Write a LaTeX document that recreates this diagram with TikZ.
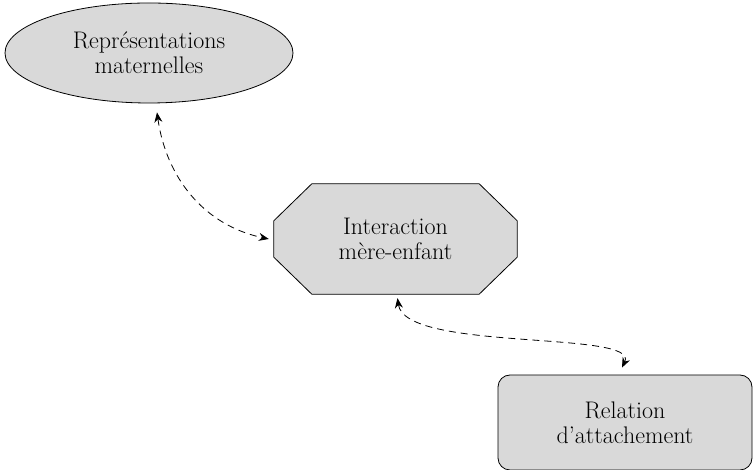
\documentclass[tikz,border=0pt]{standalone}
\usetikzlibrary{shapes.geometric,arrows.meta,backgrounds}
\tikzset{
  box/.style={draw, line width=0.8pt, fill=black!15, align=center, font=\fontsize{24}{25}\selectfont},
  link/.style={line width=0.8pt, dash pattern=on 7pt off 5pt, {Stealth[length=10pt,width=8pt]}-{Stealth[length=10pt,width=8pt]}}
}
\begin{document}
\begin{tikzpicture}[x=1pt,y=1pt]
      \useasboundingbox (0,0) rectangle (753,470);
      \node[box, ellipse, minimum width=288pt, minimum height=100pt, inner sep=0pt]
        (rep) at (149,417) {Représentations\\maternelles};
      \node[align=center, font=\fontsize{24}{25}\selectfont, minimum width=243pt, minimum height=110pt, inner sep=0pt]
        (inter) at (395.5,231) {Interaction\\mère-enfant};
      \node[box, rounded corners=12pt, minimum width=254pt, minimum height=95pt, inner sep=0pt]
        (rel) at (625,47.5) {Relation\\d'attachement};
      % octagon behind the middle text
      \begin{scope}[on background layer]
        \draw[line width=0.8pt, fill=black!15]
          ([xshift=38pt]inter.north west) -- ([xshift=-38pt]inter.north east)
          -- ([yshift=-37pt]inter.north east) -- ([yshift=37pt]inter.south east)
          -- ([xshift=-38pt]inter.south east) -- ([xshift=38pt]inter.south west)
          -- ([yshift=37pt]inter.south west) -- ([yshift=-37pt]inter.north west) -- cycle;
      \end{scope}
      \begin{scope}[link]
        \draw ([shift={(8pt,-9pt)}]rep.south) to[out=-82,in=168] ([xshift=-5pt]inter.west);
        \draw ([shift={(2pt,-4pt)}]inter.south) .. controls (405,118) and (640,140) .. ([shift={(-3pt,7pt)}]rel.north);
      \end{scope}
    \end{tikzpicture}
\end{document}
